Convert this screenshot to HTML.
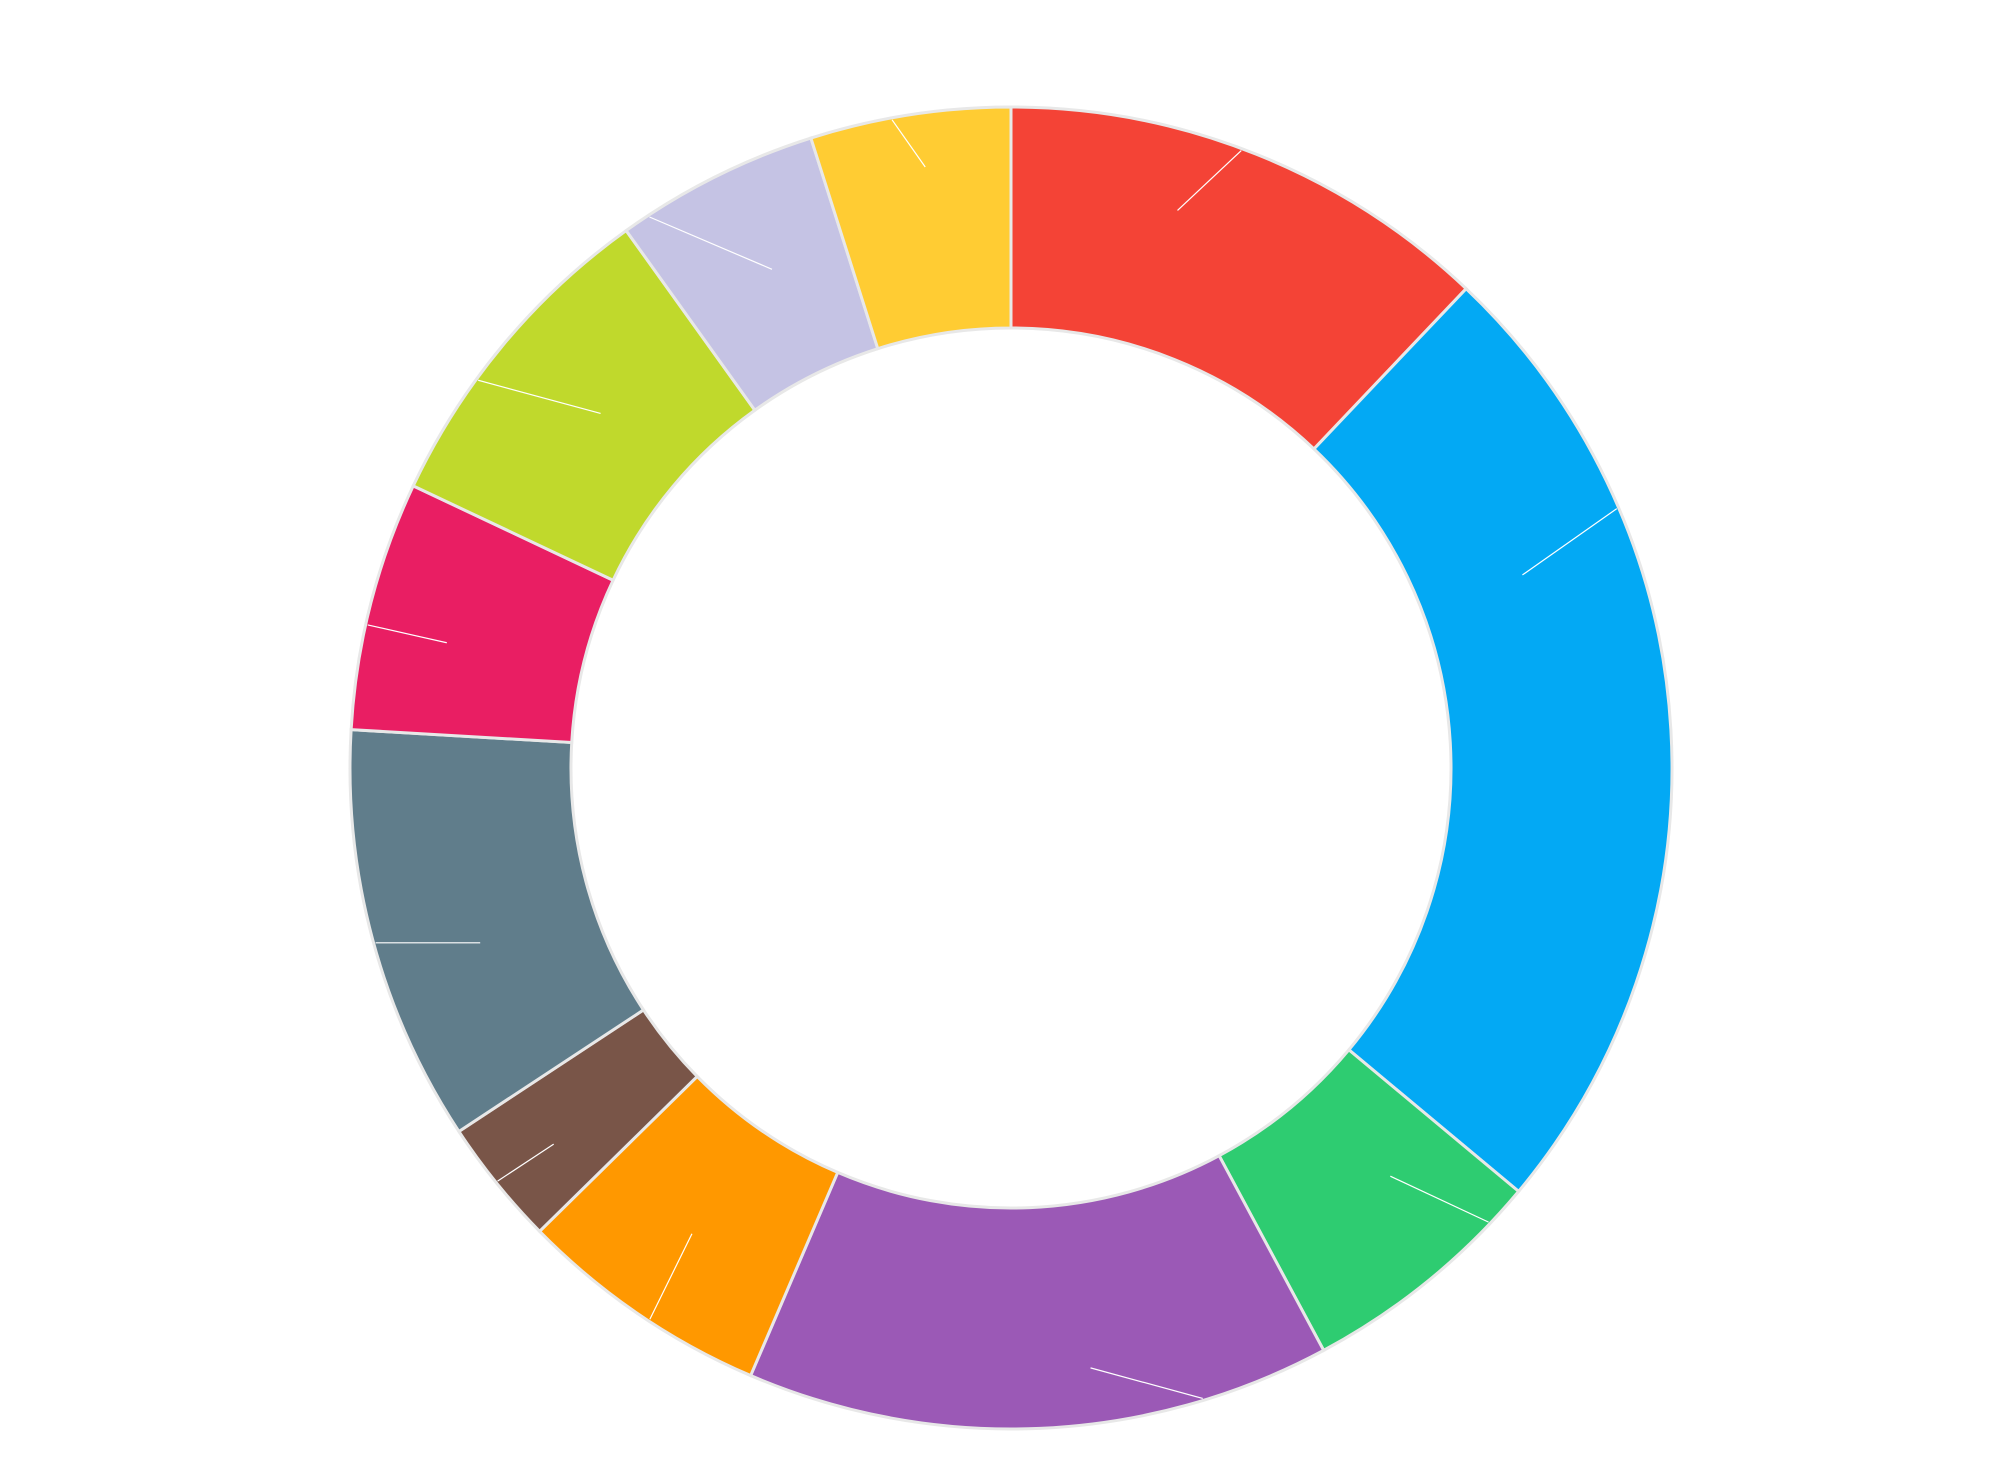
<!DOCTYPE html>
<html><head><meta charset="utf-8"><style>
html,body{margin:0;padding:0;background:#fff;}
svg{display:block;}
</style></head><body>
<svg id="chart" width="2000" height="1481" viewBox="0 0 2000 1481" xmlns="http://www.w3.org/2000/svg">
<g id="slices"></g>
<g id="leaders"></g>
</svg>
<script>
const categories = ["A","B","C","D","E","F","G","H","I","J","K"];
const values = [12.1, 24.0, 6.1, 14.3, 6.2, 3.1, 10.2, 6.1, 8.1, 5.0, 4.9];
const colors = ["#f44336","#03a9f4","#2ecc71","#9b59b6","#ff9800","#795548","#607d8b","#e91e63","#c0d92c","#c5c3e4","#ffcc33"];
// leader line styling (position within slice span, and direction in px)
const leaderFrac = [0.47,0.27,0.17,0.22,0.45,0.51,0.49,0.42,0.37,0.13,0.41];
const leaderDx = [-50,-74,-77,-88,33,44,82,62,96,96,26];
const leaderDy = [47,52,-36,-24,-67,-29,0,14,26,41,37];

const cx = 1011, cy = 768, rOuter = 661, rInner = 440, k = 1.2755;
const NS = "http://www.w3.org/2000/svg";
const total = values.reduce((a,b)=>a+b,0);
function angleOf(v){ return v/total*2*Math.PI; }
function pt(a,r){ return [cx + r*Math.sin(a), cy - r*Math.cos(a)]; }

const gS = document.getElementById('slices');
const gL = document.getElementById('leaders');
let acc = 0;
values.forEach((v,i)=>{
  const a0 = angleOf(acc), a1 = angleOf(acc+v);
  acc += v;
  const large = (a1-a0) > Math.PI ? 1 : 0;
  const p0 = pt(a0,rOuter), p1 = pt(a1,rOuter), p2 = pt(a1,rInner), p3 = pt(a0,rInner);
  const d = `M${p0[0]},${p0[1]} A${rOuter},${rOuter} 0 ${large} 1 ${p1[0]},${p1[1]} L${p2[0]},${p2[1]} A${rInner},${rInner} 0 ${large} 0 ${p3[0]},${p3[1]} Z`;
  const path = document.createElementNS(NS,'path');
  path.setAttribute('d', d);
  path.setAttribute('fill', colors[i]);
  path.setAttribute('stroke', '#e8e8e8');
  path.setAttribute('stroke-width', '3');
  
  
  gS.appendChild(path);
  const am = a0 + (a1-a0)*leaderFrac[i];
  const q1 = pt(am, rOuter - 2);
  const ln = document.createElementNS(NS,'line');
  ln.setAttribute('x1', q1[0]); ln.setAttribute('y1', q1[1]);
  ln.setAttribute('x2', q1[0] + leaderDx[i]*k); ln.setAttribute('y2', q1[1] + leaderDy[i]*k);
  ln.setAttribute('stroke', '#ffffff');
  ln.setAttribute('stroke-width', '1.2');
  
  
  gL.appendChild(ln);
});
</script>
</body></html>
